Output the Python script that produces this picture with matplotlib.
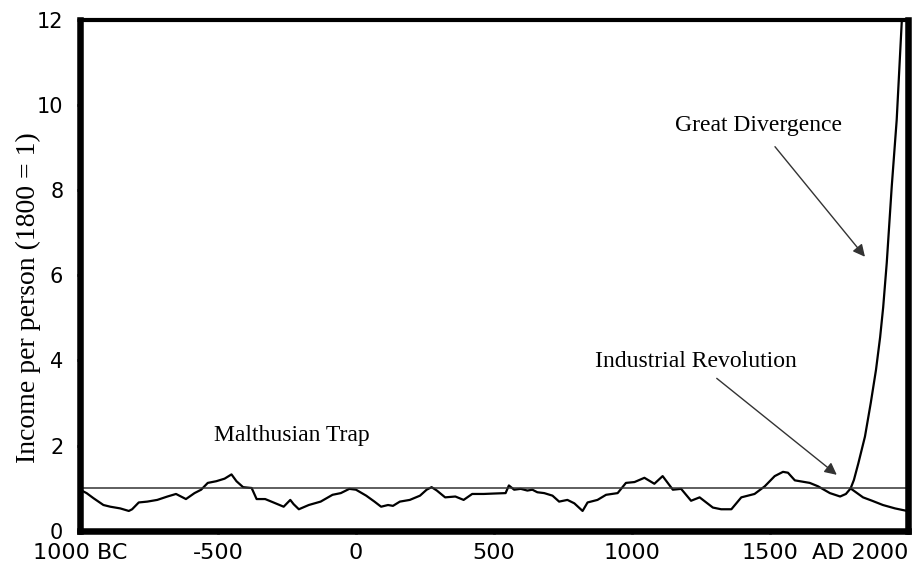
import matplotlib
matplotlib.use("Agg")
import matplotlib.pyplot as plt

# income per person, 1800 = 1
years = [-1000, -976, -951, -915, -890, -854, -823, -811, -787, -756, -720, -683, -652,
         -616, -585, -561, -537, -506, -476, -451, -433, -409, -378, -360, -329, -299,
         -262, -238, -226, -207, -171, -128, -85, -55, -24, 0, 37, 67, 91, 116, 134,
         159, 195, 232, 256, 274, 293, 323, 360, 390, 421, 463, 500, 542, 554, 573,
         597, 621, 639, 657, 682, 712, 736, 766, 791, 821, 839, 875, 906, 948, 978,
         1009, 1045, 1081, 1111, 1148, 1178, 1214, 1245, 1293, 1323, 1360, 1396, 1444,
         1481, 1517, 1547, 1565, 1590, 1644, 1674, 1717, 1754, 1775, 1792]
income = [0.96, 0.88, 0.76, 0.60, 0.56, 0.52, 0.46, 0.50, 0.66, 0.68, 0.72, 0.80, 0.86,
          0.74, 0.88, 0.96, 1.12, 1.16, 1.22, 1.32, 1.16, 1.02, 1.00, 0.74, 0.74, 0.66,
          0.56, 0.72, 0.62, 0.50, 0.60, 0.68, 0.84, 0.88, 0.98, 0.96, 0.82, 0.68, 0.56,
          0.60, 0.58, 0.68, 0.72, 0.82, 0.96, 1.02, 0.94, 0.78, 0.80, 0.72, 0.86, 0.86,
          0.87, 0.88, 1.06, 0.96, 0.98, 0.94, 0.96, 0.90, 0.88, 0.82, 0.68, 0.72, 0.64,
          0.46, 0.66, 0.72, 0.84, 0.88, 1.12, 1.14, 1.24, 1.10, 1.28, 0.96, 0.98, 0.70,
          0.78, 0.54, 0.50, 0.50, 0.78, 0.86, 1.04, 1.28, 1.38, 1.36, 1.18, 1.12, 1.04,
          0.88, 0.80, 0.86, 0.99]

# after 1800: rich countries take off, poor countries fall behind
rich_years = [1792, 1804, 1820, 1844, 1865, 1884, 1899, 1910, 1923, 1941, 1959, 1977, 1990]
rich_income = [0.99, 1.19, 1.58, 2.21, 3.00, 3.78, 4.55, 5.25, 6.30, 8.09, 9.66, 11.93, 13.3]
poor_years = [1792, 1837, 1870, 1909, 1953, 1997]
poor_income = [0.99, 0.78, 0.70, 0.60, 0.52, 0.46]

xticks = [-1000, -500, 0, 500, 1000, 1500, 2000]
xlabels = ["1000 BC", "-500", "0", "500", "1000", "1500", "AD 2000"]
yticks = [0, 2, 4, 6, 8, 10, 12]

serif = "Liberation Serif"

fig = plt.figure(figsize=(9.17, 5.68), dpi=100)
ax = fig.add_axes([0.0872, 0.066, 0.903, 0.898])

ax.plot(years, income, color="black", lw=1.6)
ax.plot(rich_years, rich_income, color="black", lw=1.6)
ax.plot(poor_years, poor_income, color="black", lw=1.6)
ax.axhline(1, color="#333333", lw=1.1)

ax.set_xlim(-1000, 2000)
ax.set_ylim(0, 12)
ax.set_xticks(xticks)
ax.set_xticklabels(xlabels, fontsize=16)
ax.set_yticks(yticks)
ax.tick_params(axis="y", labelsize=15, length=2, width=2, pad=10)
ax.tick_params(axis="x", length=2, width=2, pad=7)
ax.get_xticklabels()[-1].set_horizontalalignment("right")

for side in ["left", "bottom", "right"]:
    ax.spines[side].set_linewidth(4.7)
ax.spines["top"].set_linewidth(3)

fig.text(0.031, 0.476, "Income per person (1800 = 1)", rotation=90,
         ha="center", va="center", fontsize=20, family=serif)

ax.text(-233, 2.11, "Malthusian Trap", ha="center", va="baseline",
        fontsize=17, family=serif)
ax.annotate("", xy=(1742, 1.31), xytext=(1307, 3.58),
            arrowprops=dict(arrowstyle="-|>", color="#333333", lw=1,
                            mutation_scale=18, shrinkA=0, shrinkB=0))
ax.text(1231, 3.84, "Industrial Revolution", ha="center", va="baseline",
        fontsize=17, family=serif)
ax.annotate("", xy=(1844, 6.44), xytext=(1518, 9.03),
            arrowprops=dict(arrowstyle="-|>", color="#333333", lw=1,
                            mutation_scale=18, shrinkA=0, shrinkB=0))
ax.text(1460, 9.41, "Great Divergence", ha="center", va="baseline",
        fontsize=17, family=serif)

fig.savefig("out.png", dpi=100)
